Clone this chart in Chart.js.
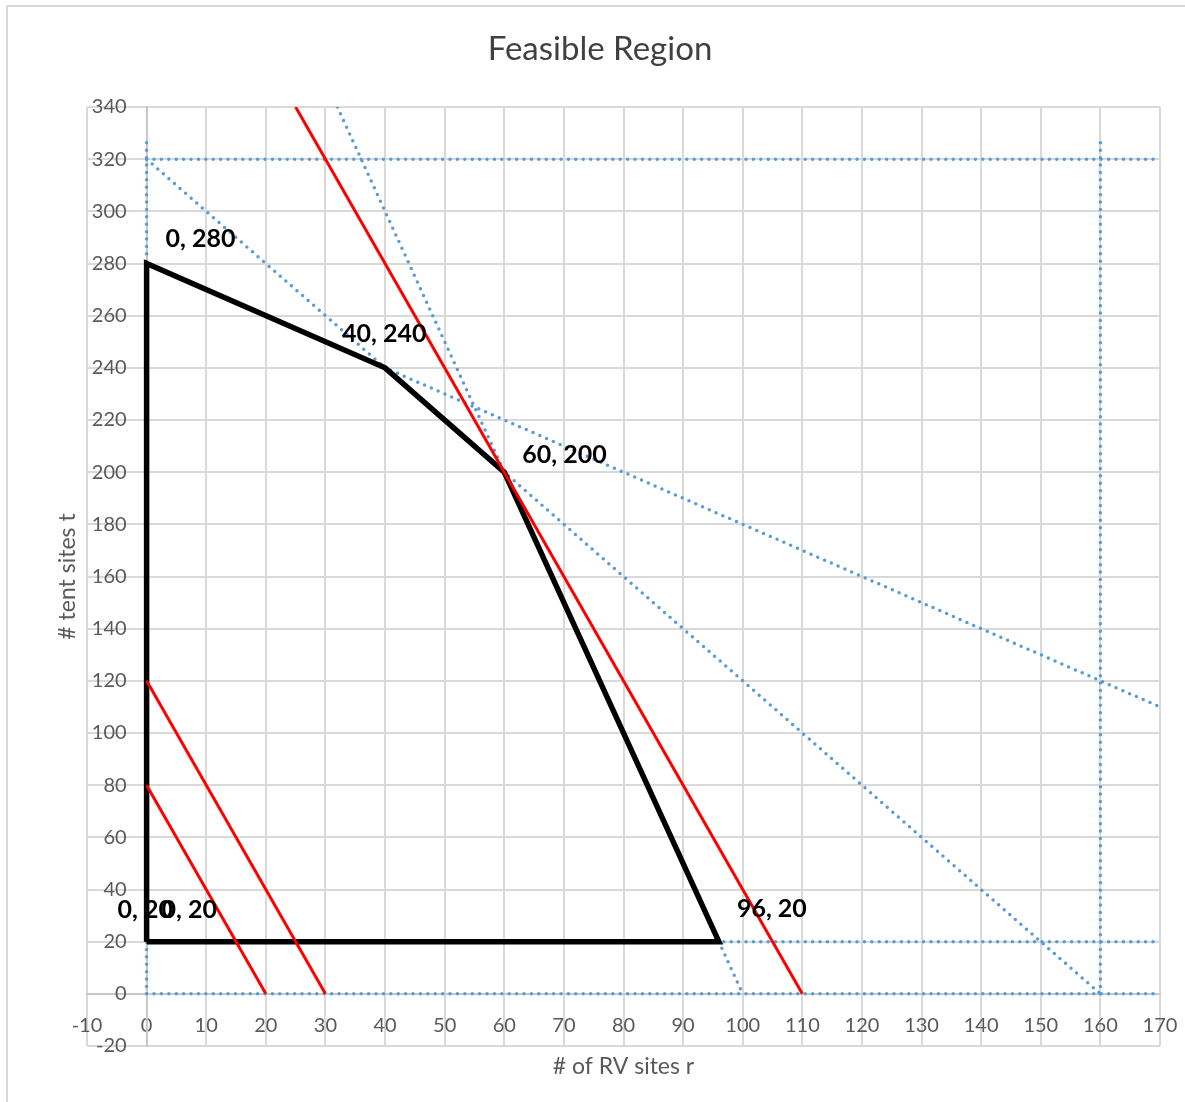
<!DOCTYPE html>
<html>
<head>
<meta charset="utf-8">
<title>Feasible Region</title>
<script src="https://cdn.jsdelivr.net/npm/chart.js@4.4.1/dist/chart.umd.min.js"></script>
<style>
  html, body { margin: 0; padding: 0; background: #fff; overflow: hidden; }
  canvas { display: block; }
</style>
</head>
<body>
<canvas id="feasible-chart" width="1185" height="1102"></canvas>
<script>
// corner points of the feasible region, walked around and closed back on (0, 20)
const regionR = [0, 0, 40, 60, 96, 0];
const regionT = [20, 280, 240, 200, 20, 20];

// objective lines (r, t pairs)
const objective80 = [[0, 80], [20, 0]];
const objective120 = [[0, 120], [30, 0]];
const objective440 = [[25, 340], [110, 0]];

// constraint lines (r, t pairs)
const tentMax = [[0, 320], [170, 320]];
const tentMin = [[0, 20], [170, 20]];
const tentZero = [[0, 0], [170, 0]];
const rvZero = [[0, 0], [0, 328]];
const rvMax = [[160, 0], [160, 328]];
const slope2 = [[0, 320], [160, 0]];
const slope1 = [[0, 280], [170, 110]];
const slope5 = [[32, 340], [100, 0]];

// axis ranges and tick steps
const rRange = [-10, 170];
const tRange = [-20, 340];
const rStep = 10;
const tStep = 20;

const FONT = 'Lato, "Open Sans", sans-serif';
const LABEL_GREY = '#595959';

const toPoints = pairs => pairs.map(p => ({ x: p[0], y: p[1] }));
const regionPoints = regionR.map((r, i) => ({ x: r, y: regionT[i] }));

const dotted = pairs => ({
    data: toPoints(pairs),
    showLine: true,
    borderColor: '#5b9bd5',
    borderWidth: 3.5,
    borderDash: [0, 7.4],
    borderCapStyle: 'round',
    pointRadius: 0,
    order: 3
});

const redLine = pairs => ({
    data: toPoints(pairs),
    showLine: true,
    borderColor: '#ff0000',
    borderWidth: 3,
    pointRadius: 0,
    order: 1
});

// label offsets (px) for each region corner, same order as regionR/regionT
const labelOffsets = [[-29, -32], [19, -25], [-43, -34], [18, -17], [18, -33], [15, -32]];

const cornerLabels = {
    id: 'cornerLabels',
    afterDatasetsDraw(chart) {
        const { ctx, scales } = chart;
        ctx.save();
        ctx.font = 'bold 25px ' + FONT;
        ctx.fillStyle = '#000';
        ctx.textAlign = 'left';
        ctx.textBaseline = 'middle';
        regionPoints.forEach((p, i) => {
            const px = scales.x.getPixelForValue(p.x) + labelOffsets[i][0];
            const py = scales.y.getPixelForValue(p.y) + labelOffsets[i][1];
            ctx.fillText(p.x + ', ' + p.y, px, py);
        });
        ctx.restore();
    }
};

// frame, title, axis titles and the t-axis tick labels sitting left of r = 0
const frameAndTitles = {
    id: 'frameAndTitles',
    beforeDraw(chart) {
        const { ctx } = chart;
        ctx.save();
        ctx.fillStyle = '#fff';
        ctx.fillRect(0, 0, chart.width, chart.height);
        ctx.strokeStyle = '#d9d9d9';
        ctx.lineWidth = 2;
        ctx.strokeRect(7, 6, chart.width + 20, chart.height + 20);
        ctx.restore();
    },
    afterDraw(chart) {
        const { ctx, chartArea, scales } = chart;
        ctx.save();
        ctx.textBaseline = 'middle';

        ctx.font = '33px ' + FONT;
        ctx.fillStyle = '#404040';
        ctx.textAlign = 'center';
        ctx.fillText('Feasible Region', 600, 49);

        ctx.font = '20px ' + FONT;
        ctx.fillStyle = LABEL_GREY;
        ctx.textAlign = 'right';
        const axisX = scales.x.getPixelForValue(0);
        scales.y.ticks.forEach(t => {
            ctx.fillText(String(t.value), axisX - 20, scales.y.getPixelForValue(t.value));
        });

        ctx.font = '23px ' + FONT;
        ctx.textAlign = 'center';
        ctx.fillText('# of RV sites r', (chartArea.left + chartArea.right) / 2, chartArea.bottom + 21);
        ctx.translate(68, (chartArea.top + chartArea.bottom) / 2);
        ctx.rotate(-Math.PI / 2);
        ctx.fillText('# tent sites t', 0, 0);
        ctx.restore();
    }
};

new Chart(document.getElementById('feasible-chart'), {
    type: 'scatter',
    data: {
        datasets: [
            redLine(objective440),
            redLine(objective120),
            redLine(objective80),
            {
                data: regionPoints,
                showLine: true,
                borderColor: '#000',
                borderWidth: 5.5,
                borderJoinStyle: 'miter',
                pointRadius: 0,
                order: 2
            },
            dotted(tentMax),
            dotted(tentMin),
            dotted(tentZero),
            dotted(rvZero),
            dotted(rvMax),
            dotted(slope2),
            dotted(slope1),
            dotted(slope5)
        ]
    },
    options: {
        responsive: false,
        animation: false,
        layout: { padding: { left: 87, right: 25, top: 107, bottom: 56 } },
        plugins: {
            legend: { display: false },
            tooltip: { enabled: false },
            title: { display: false }
        },
        scales: {
            x: {
                type: 'linear',
                position: { y: 0 },
                min: rRange[0],
                max: rRange[1],
                // an invisible tick mark pushes the labels down without widening the side padding
                ticks: { stepSize: rStep, color: LABEL_GREY, padding: 4, font: { family: FONT, size: 20 } },
                grid: { color: '#d9d9d9', lineWidth: 2, drawTicks: true, tickLength: 16, tickColor: 'rgba(0,0,0,0)' },
                border: { color: '#c8c8c8', width: 2 }
            },
            y: {
                type: 'linear',
                position: { x: 0 },
                min: tRange[0],
                max: tRange[1],
                ticks: { stepSize: tStep, display: false },
                grid: { color: '#d9d9d9', lineWidth: 2, drawTicks: false },
                border: { color: '#c8c8c8', width: 2 }
            }
        }
    },
    plugins: [frameAndTitles, cornerLabels]
});
</script>
</body>
</html>
